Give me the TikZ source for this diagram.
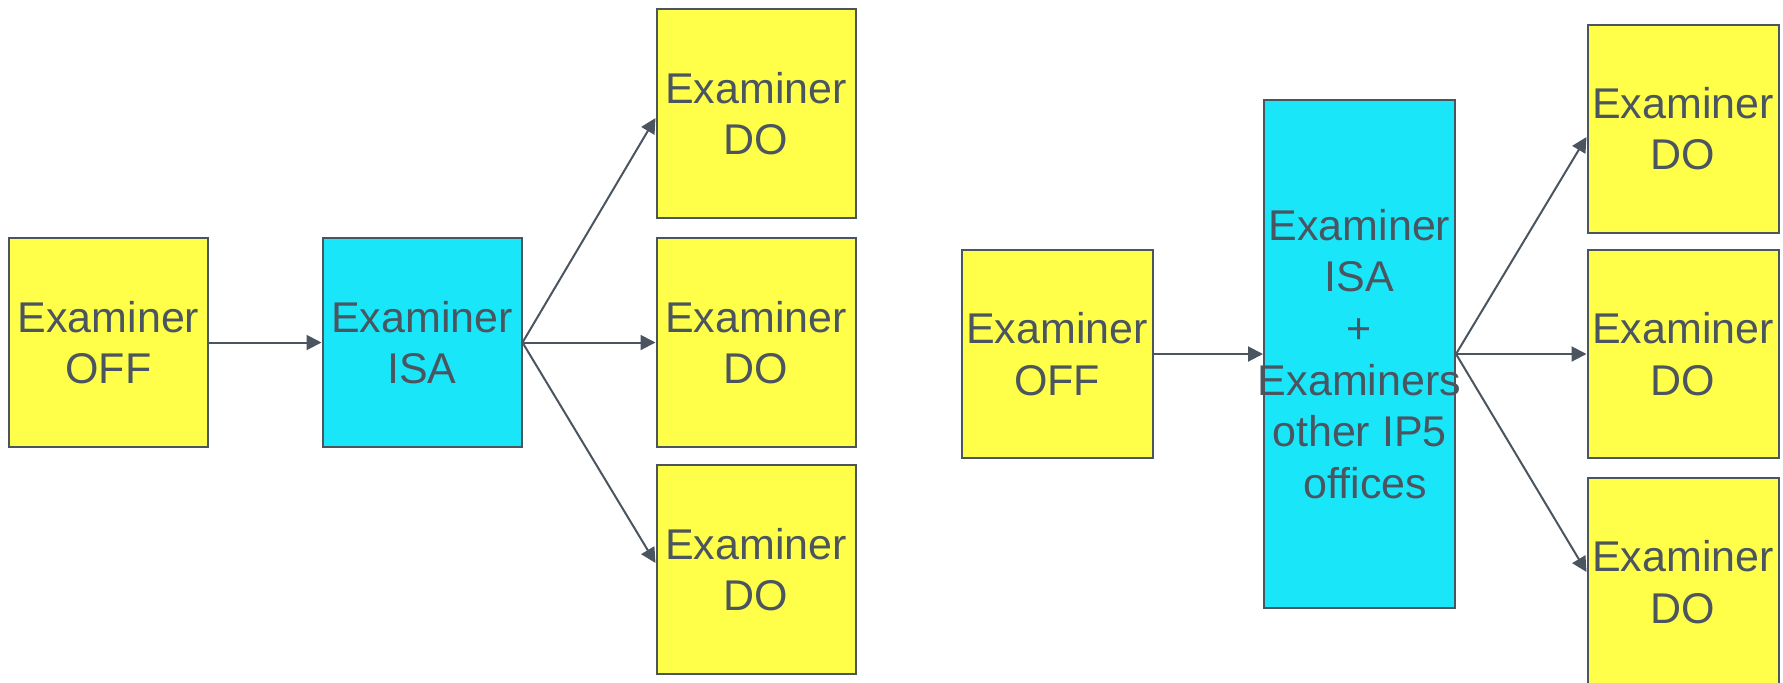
\documentclass[tikz,border=0pt]{standalone}
\usepackage{fontspec}
\setmainfont{Liberation Sans}
\usetikzlibrary{arrows.meta}
\definecolor{linec}{HTML}{4B5560}
\definecolor{yelc}{HTML}{FFFF4A}
\definecolor{cyanc}{HTML}{1AE6FA}
\begin{document}
\begin{tikzpicture}[x=0.5pt,y=-0.5pt,
  box/.style={draw=linec, line width=1pt, inner sep=0pt, align=center,
    text=linec, font=\fontsize{21.5pt}{25.8pt}\selectfont},
  ybox/.style={box, fill=yelc},
  cbox/.style={box, fill=cyanc},
  lsize/.style={minimum width=99.5pt, minimum height=104.5pt},
  rsize/.style={minimum width=95.5pt, minimum height=104pt},
  link/.style={draw=linec, line width=1pt, -{Triangle[length=7.5pt,width=7.5pt]}}]
\useasboundingbox (0,0) rectangle (1783,682);

% single ISA examiner
\node[ybox, lsize] (off1) at (108.5,342.5) {Examiner\\OFF};
\node[cbox, lsize] (isa1) at (422,342.5) {Examiner\\ISA};
\node[ybox, lsize] (do1a) at (756,113.5) {Examiner\\DO};
\node[ybox, lsize] (do1b) at (756,342.5) {Examiner\\DO};
\node[ybox, lsize] (do1c) at (756,569.5) {Examiner\\DO};

\draw[link] (off1.east) -- (isa1.west);
\draw[link] (isa1.east) -- ([yshift=-2.25pt]do1a.west);
\draw[link] (isa1.east) -- (do1b.west);
\draw[link] (isa1.east) -- ([yshift=3.25pt]do1c.west);

% ISA examiner together with the other IP5 offices
\node[ybox, rsize] (off2) at (1057,354) {Examiner\\OFF};
\node[cbox, minimum width=95.5pt, minimum height=254pt] (isa2) at (1359.5,354)
  {Examiner\\ISA\\+\\\makebox[0pt]{Examiners}\\other IP5\\\hspace{0.28em}offices};
\node[ybox, rsize] (do2a) at (1683,128.5) {Examiner\\DO};
\node[ybox, rsize] (do2b) at (1683,354) {Examiner\\DO};
\node[ybox, rsize] (do2c) at (1683,582) {Examiner\\DO};

\draw[link] (off2.east) -- (isa2.west);
\draw[link] (isa2.east) -- ([yshift=-4.25pt]do2a.west);
\draw[link] (isa2.east) -- (do2b.west);
\draw[link] (isa2.east) -- ([yshift=5pt]do2c.west);
\end{tikzpicture}
\end{document}
